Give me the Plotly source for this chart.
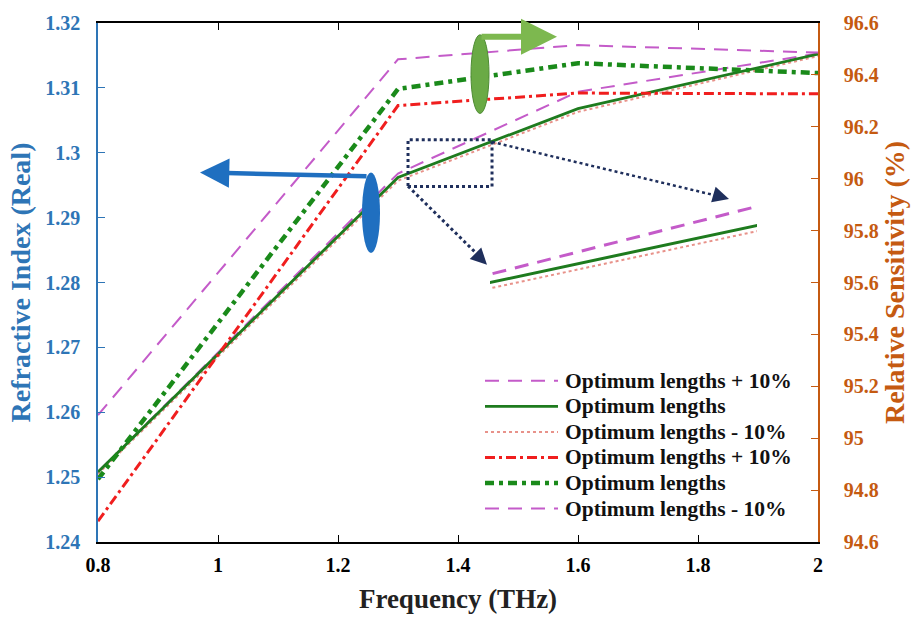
import plotly.graph_objects as go

# Frequency sample points (THz)
freq = [0.8, 1.3, 1.6, 2.0]

# Refractive index, real part (left axis)
n_plus10 = [1.2508, 1.2968, 1.3094, 1.3153]
n_opt = [1.2508, 1.2962, 1.3068, 1.3152]
n_minus10 = [1.2505, 1.2957, 1.3063, 1.3149]

# Relative sensitivity in % (right axis)
s_plus10 = [94.68, 96.282, 96.33, 96.327]
s_opt = [94.842, 96.346, 96.445, 96.407]
s_minus10 = [95.089, 96.46, 96.515, 96.486]

legend_labels = [
    "Optimum lengths + 10%",
    "Optimum lengths",
    "Optimum lengths - 10%",
    "Optimum lengths + 10%",
    "Optimum lengths",
    "Optimum lengths - 10%",
]

FONT = "Liberation Serif"
BLUE = "#2E75B6"
ORANGE = "#C55A11"
NAVY = "#1F2F5C"

# line styles, in legend order
styles = [
    dict(color="#C45BC9", width=2, dash="14px,9px"),          # n +10%
    dict(color="#1E7B1E", width=2.8, dash="solid"),           # n optimum
    dict(color="#E8928A", width=2, dash="dot"),               # n -10%
    dict(color="#F01E1E", width=3, dash="10px,4px,3px,4px"),  # s +10%
    dict(color="#1A8A1A", width=4.5, dash="9px,5px,4px,5px"), # s optimum
    dict(color="#C45BC9", width=2, dash="14px,9px"),          # s -10%
]

fig = go.Figure()

# left-axis series
fig.add_trace(go.Scatter(x=freq, y=n_minus10, mode="lines", line=styles[2], name=legend_labels[2]))
fig.add_trace(go.Scatter(x=freq, y=n_plus10, mode="lines", line=styles[0], name=legend_labels[0]))
fig.add_trace(go.Scatter(x=freq, y=n_opt, mode="lines", line=styles[1], name=legend_labels[1]))

# right-axis series
fig.add_trace(go.Scatter(x=freq, y=s_minus10, mode="lines", line=styles[5], name=legend_labels[5], yaxis="y2"))
fig.add_trace(go.Scatter(x=freq, y=s_plus10, mode="lines", line=styles[3], name=legend_labels[3], yaxis="y2"))
fig.add_trace(go.Scatter(x=freq, y=s_opt, mode="lines", line=styles[4], name=legend_labels[4], yaxis="y2"))

# magnified view of the boxed region
zoom_x = [1.3167, 1.4567]
zoom_y = [1.2948, 1.3020]
inset_styles = [
    dict(color="#E8928A", width=2, dash="dot"),
    dict(color="#C45BC9", width=3, dash="14px,9px"),
    dict(color="#1E7B1E", width=3, dash="solid"),
]
for ser, st in zip([n_minus10, n_plus10, n_opt], inset_styles):
    fig.add_trace(go.Scatter(x=freq, y=ser, mode="lines", line=st,
                             xaxis="x3", yaxis="y3", hoverinfo="skip"))

W, H = 914, 621
L, R, T, B = 98, 96, 16, 77
PW, PH = W - L - R, H - T - B


def px(x):
    return (x - L) / PW


def py(y):
    return (H - B - y) / PH


tickfont = lambda c: dict(family=FONT, size=20, color=c, weight="bold")

fig.update_layout(
    width=W, height=H,
    margin=dict(l=L, r=R, t=T, b=B),
    plot_bgcolor="white", paper_bgcolor="white",
    showlegend=False,
    xaxis=dict(
        range=[0.8, 2.0], dtick=0.2, tick0=0,
        showline=True, linecolor="black", linewidth=1.5, mirror="ticks",
        ticks="inside", ticklen=7, tickcolor="black", tickwidth=1.2,
        tickfont=tickfont("black"), ticklabelstandoff=4,
        showgrid=False, zeroline=False,
        title=dict(text="Frequency (THz)", standoff=14,
                   font=dict(family=FONT, size=27, color="#222", weight="bold")),
    ),
    yaxis=dict(
        range=[1.24, 1.32], dtick=0.01, tick0=0,
        showline=True, linecolor=BLUE, linewidth=1.5,
        ticks="inside", ticklen=7, tickcolor=BLUE, tickwidth=1.2,
        tickfont=tickfont(BLUE), ticklabelstandoff=12,
        showgrid=False, zeroline=False,
        title=dict(text="Refractive Index (Real)", standoff=6,
                   font=dict(family=FONT, size=28, color=BLUE, weight="bold")),
    ),
    yaxis2=dict(
        range=[94.6, 96.6], dtick=0.2, tick0=0,
        overlaying="y", side="right",
        showline=True, linecolor=ORANGE, linewidth=1.5,
        ticks="inside", ticklen=7, tickcolor=ORANGE, tickwidth=1.2,
        tickfont=tickfont(ORANGE), ticklabelstandoff=20,
        showgrid=False, zeroline=False,
        title=dict(text="Relative Sensitivity (%)", standoff=2,
                   font=dict(family=FONT, size=28, color=ORANGE, weight="bold")),
    ),
    xaxis3=dict(domain=[px(490), px(757)], anchor="y3", range=zoom_x, visible=False),
    yaxis3=dict(domain=[py(300), py(195)], anchor="x3", range=[1.29509, 1.30403], visible=False),
)

shapes = []
# zoom box on the main axes
shapes.append(dict(type="rect", xref="x", yref="y", x0=zoom_x[0], x1=zoom_x[1],
                   y0=zoom_y[0], y1=zoom_y[1], line=dict(color=NAVY, width=3, dash="dot")))
# dotted leader lines from the box to the magnified view
shapes.append(dict(type="line", xref="paper", yref="paper", x0=px(492), y0=py(137),
                   x1=px(722), y1=py(193), line=dict(color=NAVY, width=2.5, dash="dot")))
shapes.append(dict(type="line", xref="paper", yref="paper", x0=px(408), y0=py(182),
                   x1=px(482), y1=py(256), line=dict(color=NAVY, width=3, dash="dot")))
# axis-indicator ellipses
shapes.append(dict(type="circle", xref="paper", yref="paper", x0=px(362), x1=px(380),
                   y0=py(250), y1=py(168), fillcolor="#1F6FC0", line=dict(width=0)))
shapes.append(dict(type="circle", xref="paper", yref="paper", x0=px(471), x1=px(489),
                   y0=py(108), y1=py(28), fillcolor="#6AAA45", line=dict(color="#4E8C34", width=1)))

# legend samples
row_y = [380, 406, 432, 458, 484, 510]
for st, yy in zip(styles, row_y):
    shapes.append(dict(type="line", xref="paper", yref="paper", x0=px(485), x1=px(558),
                       y0=py(yy), y1=py(yy), line=st))

annotations = []
for lab, yy in zip(legend_labels, row_y):
    annotations.append(dict(text=lab, xref="paper", yref="paper", x=px(563), y=py(yy),
                            xanchor="left", yanchor="middle", showarrow=False,
                            font=dict(family=FONT, size=21.5, color="#111", weight="bold")))

# arrow heads
annotations.append(dict(xref="paper", yref="paper", x=px(200), y=py(168), ax=168, ay=4,
                        axref="pixel", ayref="pixel", text="", showarrow=True,
                        arrowhead=2, arrowsize=1.3, arrowwidth=4.5, arrowcolor="#1F6FC0"))
annotations.append(dict(xref="paper", yref="paper", x=px(557), y=py(30), ax=-77, ay=0,
                        text="", showarrow=True, arrowhead=2, arrowsize=1.2,
                        arrowwidth=6, arrowcolor="#7DB84F"))
annotations.append(dict(xref="paper", yref="paper", x=px(729), y=py(195), ax=-14, ay=-4,
                        text="", showarrow=True, arrowhead=2, arrowsize=1.3,
                        arrowwidth=2.5, arrowcolor=NAVY))
annotations.append(dict(xref="paper", yref="paper", x=px(487), y=py(262), ax=-10, ay=-10,
                        text="", showarrow=True, arrowhead=2, arrowsize=1.3,
                        arrowwidth=2.5, arrowcolor=NAVY))

fig.update_layout(shapes=shapes, annotations=annotations)

fig.write_html("out.html")
